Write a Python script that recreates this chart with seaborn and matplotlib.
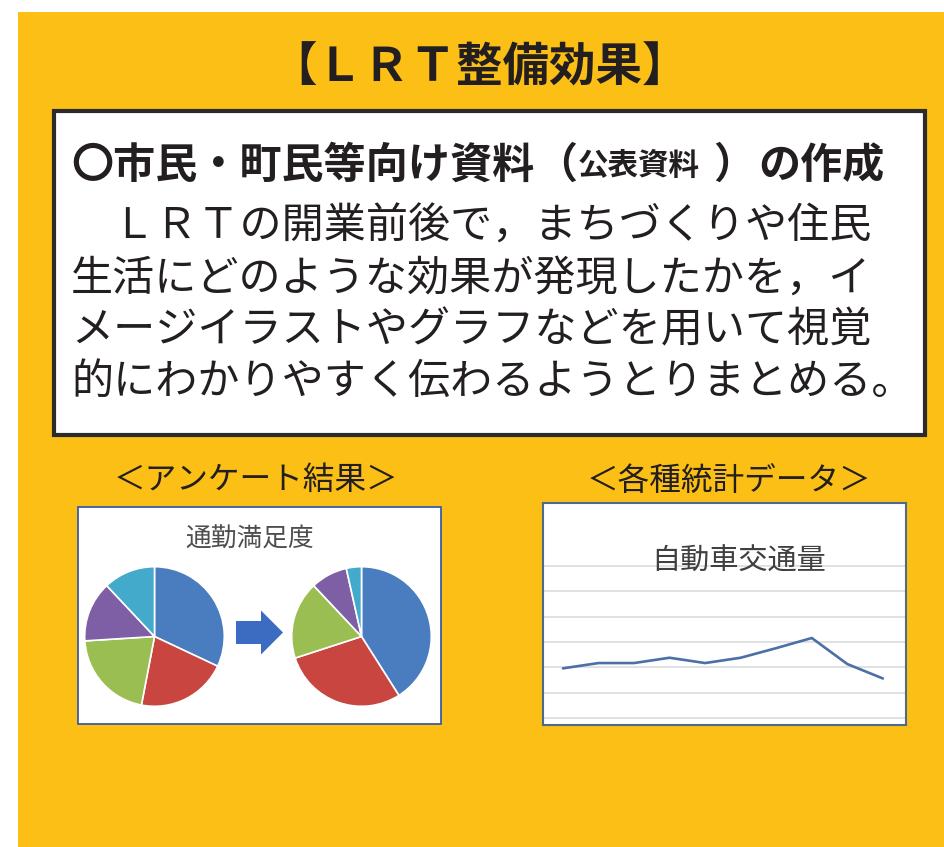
import matplotlib
matplotlib.use('Agg')
import matplotlib.pyplot as plt
from matplotlib.patches import Rectangle, FancyArrow
import seaborn as sns

# survey result: commuting satisfaction shares (before / after LRT opening)
satisfaction_groups = ['区分1', '区分2', '区分3', '区分4', '区分5']
satisfaction_before = [32, 21, 21, 14, 12]
satisfaction_after = [41, 29, 18, 8.5, 3.5]
pie_colors = ['#4A7DC0', '#C8463F', '#9BBE52', '#7E5FA6', '#43AACB']

# statistics: car traffic volume (index values)
traffic_period = [1, 2, 3, 4, 5, 6, 7, 8, 9, 10]
traffic_volume = [19.6, 21.7, 21.7, 23.8, 21.7, 23.8, 27.6, 31.6, 21.3, 15.6]

title_text = '【ＬＲＴ整備効果】'
body_lines = [
    '\u3000ＬＲＴの開業前後で，まちづくりや住民',
    '生活にどのような効果が発現したかを，イ',
    'メージイラストやグラフなどを用いて視覚',
    '的にわかりやすく伝わるようとりまとめる。',
]

W, H = 944, 847
TEXT = '#231F20'
YELLOW = '#FBBF16'

sns.set_theme(style='white')
plt.rcParams['font.family'] = ['Noto Sans CJK JP', 'DejaVu Sans']

fig = plt.figure(figsize=(W / 100, H / 100), dpi=100)


def px_axes(x0, y0, x1, y1):
    return fig.add_axes([x0 / W, 1 - y1 / H, (x1 - x0) / W, (y1 - y0) / H])


bg = fig.add_axes([0, 0, 1, 1])
bg.set_xlim(0, W)
bg.set_ylim(H, 0)
bg.axis('off')

bg.add_patch(Rectangle((18, 12.5), W - 18, H - 12.5, facecolor=YELLOW, edgecolor='none'))
bg.add_patch(Rectangle((54, 111), 871, 324, facecolor='white', edgecolor='#2B2B2B', linewidth=3))

bg.text(480, 68, title_text, ha='center', va='center', fontsize=33.5,
        fontweight='bold', color=TEXT)

# heading with smaller bracketed part
hy = 166
bg.text(71, hy, '〇市民・町民等向け資料', ha='left', va='center', fontsize=30.3,
        fontweight='bold', color=TEXT)
bg.text(535, hy, '（', ha='left', va='center', fontsize=30.3, fontweight='bold', color=TEXT)
bg.text(639, hy, '公表資料', ha='center', va='center', fontsize=22, fontweight='bold', color=TEXT)
bg.text(713, hy, '）', ha='left', va='center', fontsize=30.3, fontweight='bold', color=TEXT)
bg.text(885, hy, 'の作成', ha='right', va='center', fontsize=30.3, fontweight='bold', color=TEXT)

for line, y in zip(body_lines, [227, 279, 330, 382]):
    bg.text(71, y, line, ha='left', va='center', fontsize=30.3, color=TEXT)

bg.text(256, 480, '＜アンケート結果＞', ha='center', va='center', fontsize=22.8, color=TEXT)
bg.text(729, 482, '＜各種統計データ＞', ha='center', va='center', fontsize=22.8, color=TEXT)

# survey panel
bg.add_patch(Rectangle((78, 507), 363, 217, facecolor='white', edgecolor='#3A5DA8', linewidth=1.3))
bg.text(250, 540, '通勤満足度', ha='center', va='center', fontsize=18.5, color='#4D4D4D')
bg.add_patch(FancyArrow(236, 632.5, 47, 0, width=23, head_width=44, head_length=22,
                        length_includes_head=True, color='#3C6CC2', linewidth=0))

for values, cx, cy, r in [(satisfaction_before, 154.5, 636.5, 70.5),
                          (satisfaction_after, 361.5, 636.5, 70.5)]:
    ax = px_axes(cx - r, cy - r, cx + r, cy + r)
    ax.pie(values, colors=pie_colors, startangle=90, counterclock=False,
           wedgeprops=dict(edgecolor='white', linewidth=1.2))
    ax.set_xlim(-1.01, 1.01)
    ax.set_ylim(-1.01, 1.01)
    ax.axis('off')

# traffic panel
ax_line = px_axes(543, 503, 906, 725)
sns.lineplot(x=traffic_period, y=traffic_volume, ax=ax_line, color='#4C6FA6', linewidth=1.9)
ax_line.set_xlim(0.44, 10.65)
ax_line.set_ylim(-2.8, 85)
ax_line.set_yticks(range(0, 61, 10))
ax_line.set_xticks([])
ax_line.set_yticklabels([])
ax_line.tick_params(length=0)
ax_line.grid(axis='y', color='#D9D9D9', linewidth=1.1)
ax_line.set_axisbelow(True)
ax_line.set_xlabel('')
ax_line.set_ylabel('')
for sp in ax_line.spines.values():
    sp.set_color('#4D6A8C')
    sp.set_linewidth(1.5)
ax_line.text(738.5, 562, '自動車交通量', transform=bg.transData, ha='center', va='center',
             fontsize=21, color='#404040')

fig.savefig('out.png', dpi=100)
